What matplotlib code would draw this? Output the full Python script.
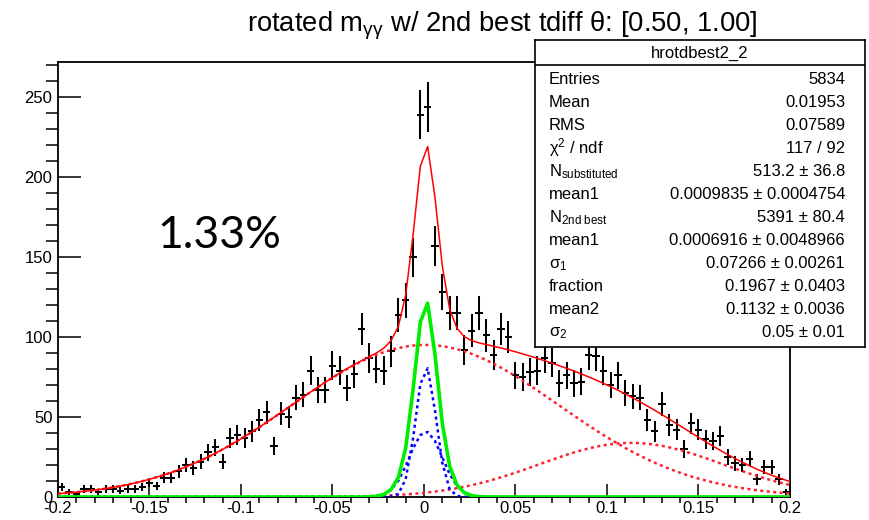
import numpy as np
import matplotlib.pyplot as plt

plt.rcParams['font.family'] = ['Liberation Sans', 'DejaVu Sans']
plt.rcParams['mathtext.fontset'] = 'custom'
plt.rcParams['mathtext.rm'] = 'Liberation Sans'
plt.rcParams['mathtext.it'] = 'Liberation Sans:italic'

# histogram: 100 bins on [-0.2, 0.2]
x_lo, x_hi, n_bins = -0.2, 0.2, 100
counts = [6, 3, 2, 5, 5, 3, 5, 5, 4, 5,
          5, 6, 9, 7, 12, 12, 16, 20, 18, 22,
          28, 31, 22, 37, 39, 37, 41, 48, 53, 32,
          52, 50, 62, 64, 79, 67, 67, 82, 79, 68,
          77, 105, 87, 80, 79, 91, 114, 123, 150, 239,
          244, 157, 128, 115, 115, 92, 104, 115, 101, 89,
          105, 100, 76, 75, 78, 79, 87, 84, 71, 76,
          71, 72, 89, 88, 79, 70, 76, 65, 63, 62,
          48, 41, 58, 45, 42, 30, 46, 42, 36, 35,
          38, 25, 21, 20, 24, 11, 19, 19, 11, 3]

# fit results
n_entries = 5834
h_mean, h_rms = 0.01953, 0.07589
chi2, ndf = 117, 92
n_sub, n_sub_err = 513.2, 36.8
mean_sig, mean_sig_err = 0.0009835, 0.0004754
n_bkg, n_bkg_err = 5391, 80.4
mean_bkg, mean_bkg_err = 0.0006916, 0.0048966
sigma1, sigma1_err = 0.07266, 0.00261
frac2, frac2_err = 0.1967, 0.0403
mean2, mean2_err = 0.1132, 0.0036
sigma2, sigma2_err = 0.05, 0.01

# fixed signal shape (double gaussian)
sig_frac_core = 0.55
sig_sigma_core = 0.0055
sig_sigma_tail = 0.009


def gauss(x, mu, s):
    return np.exp(-0.5 * ((x - mu) / s) ** 2) / (s * np.sqrt(2 * np.pi))


bw = (x_hi - x_lo) / n_bins
edges = np.linspace(x_lo, x_hi, n_bins + 1)
centers = 0.5 * (edges[:-1] + edges[1:])
y = np.array(counts, dtype=float)

# functions evaluated at the bin centres, as ROOT draws them
xf = np.concatenate([[x_lo], centers, [x_hi]])
sig_core = n_sub * bw * sig_frac_core * gauss(xf, mean_sig, sig_sigma_core)
sig_tail = n_sub * bw * (1 - sig_frac_core) * gauss(xf, mean_sig, sig_sigma_tail)
bkg1 = n_bkg * bw * (1 - frac2) * gauss(xf, mean_bkg, sigma1)
bkg2 = n_bkg * bw * frac2 * gauss(xf, mean2, sigma2)
total = sig_core + sig_tail + bkg1 + bkg2

fig = plt.figure(figsize=(8.69, 5.2), dpi=100)
ax = fig.add_axes([58 / 869, 23 / 520, 732 / 869, 435 / 520])

ax.errorbar(centers, y, xerr=bw / 2, yerr=np.sqrt(y), fmt='none',
            ecolor='black', elinewidth=1.45, capsize=0, zorder=2)

dots = (0, (1.2, 1.4))
ax.plot(xf, bkg1, color='#ff2030', lw=1.8, ls=dots, zorder=3)
ax.plot(xf, bkg2, color='#ff2030', lw=1.8, ls=dots, zorder=3)
ax.plot(xf, sig_core, color='#0000ff', lw=1.8, ls=dots, zorder=3)
ax.plot(xf, sig_tail, color='#0000ff', lw=1.8, ls=dots, zorder=3)
ax.plot(xf, sig_core + sig_tail, color='#00ee00', lw=2.6, zorder=4)
ax.plot(xf, total, color='red', lw=1.1, zorder=5)

ax.set_xlim(x_lo, x_hi)
ax.set_ylim(0, 272)
ax.set_xticks([-0.2, -0.15, -0.1, -0.05, 0, 0.05, 0.1, 0.15, 0.2])
ax.set_xticklabels(['-0.2', '-0.15', '-0.1', '-0.05', '0', '0.05', '0.1', '0.15', '0.2'])
ax.set_xticks(np.arange(-0.2, 0.2001, 0.01), minor=True)
ax.set_yticks([0, 50, 100, 150, 200, 250])
ax.set_yticks(np.arange(0, 271, 10), minor=True)
ax.tick_params(axis='both', direction='in', labelsize=12, width=1.1, colors='black')
ax.tick_params(axis='y', which='major', length=16.5, pad=4)
ax.tick_params(axis='y', which='minor', length=9, width=1.1)
ax.tick_params(axis='x', which='major', length=9.5, pad=3)
ax.tick_params(axis='x', which='minor', length=4.5, width=1.1)
for sp in ax.spines.values():
    sp.set_linewidth(1.3)

fig.text(502 / 869, 1 - 32 / 520,
         r'rotated m$_{\mathrm{γγ}}$ w/ 2nd best tdiff θ: [0.50, 1.00]',
         ha='center', va='baseline', fontsize=19.7)

fig.text(157 / 869, 1 - 248 / 520, '1.33%', family=['Lato', 'DejaVu Sans'],
         fontsize=32, ha='left', va='baseline')

# stats box
sb = fig.add_axes([535 / 869, 1 - 347 / 520, 330 / 869, 307 / 520], zorder=10)
sb.set_xlim(0, 330)
sb.set_ylim(307, 0)
sb.set_xticks([])
sb.set_yticks([])
sb.set_facecolor('white')
for sp in sb.spines.values():
    sp.set_linewidth(1.2)
sb.axhline(25, color='black', lw=1.2)
sb.text(165, 13, 'hrotdbest2_2', ha='center', va='center', fontsize=12)

labels = ['Entries', 'Mean', 'RMS', r'χ$^{2}$ / ndf',
          r'N$_{\mathrm{substituted}}$', 'mean1', r'N$_{\mathrm{2nd\ best}}$',
          'mean1', r'σ$_{1}$', 'fraction', 'mean2', r'σ$_{2}$']
values = [f'{n_entries}', f'{h_mean:.5f}', f'{h_rms:.5f}', f'{chi2} / {ndf}',
          f'{n_sub:.1f} ± {n_sub_err:.1f}',
          f'{mean_sig:.7f} ± {mean_sig_err:.7f}',
          f'{n_bkg} ± {n_bkg_err:.1f}',
          f'{mean_bkg:.7f} ± {mean_bkg_err:.7f}',
          f'{sigma1:.5f} ± {sigma1_err:.5f}',
          f'{frac2:.4f} ± {frac2_err:.4f}',
          f'{mean2:.4f} ± {mean2_err:.4f}',
          f'{sigma2:.2f} ± {sigma2_err:.2f}']
for k, (lab, val) in enumerate(zip(labels, values)):
    yb = 44.3 + 22.95 * k
    sb.text(14, yb, lab, ha='left', va='baseline', fontsize=12)
    sb.text(310, yb, val, ha='right', va='baseline', fontsize=12)

fig.savefig('out.png', dpi=100)
